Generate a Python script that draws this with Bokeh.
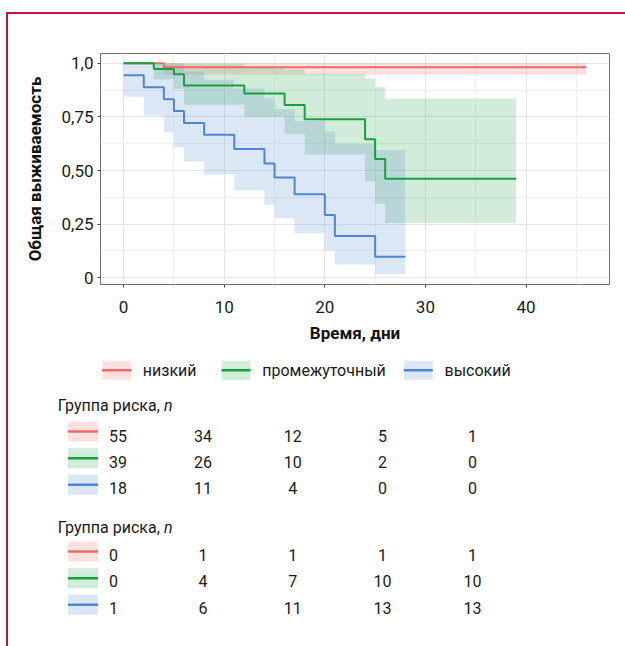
from bokeh.plotting import figure
from bokeh.models import Range1d, FixedTicker, CustomJSTickFormatter, Div
from bokeh.embed import file_html
from bokeh.resources import INLINE
from bokeh.core.properties import value

# ---------------- data ----------------
groups = ["низкий", "промежуточный", "высокий"]
colors = ["#EE6A66", "#17A03D", "#4F86D3"]

low_t = [0, 4, 46]
low_s = [1.0, 0.982, 0.982]
low_lo = [1.0, 0.947, 0.947]
low_hi = [1.0, 1.0, 1.0]

mid_t = [0, 3, 5, 6, 12, 16, 18, 24, 25, 26, 39]
mid_s = [1.0, 0.974, 0.949, 0.897, 0.859, 0.806, 0.739, 0.646, 0.554, 0.462, 0.462]
mid_lo = [1.0, 0.926, 0.882, 0.807, 0.751, 0.670, 0.575, 0.449, 0.345, 0.255, 0.255]
mid_hi = [1.0, 1.0, 1.0, 0.998, 0.984, 0.970, 0.950, 0.929, 0.889, 0.836, 0.836]

high_t = [0, 2, 4, 5, 6, 8, 11, 14, 15, 17, 20, 21, 25, 28]
high_s = [0.944, 0.889, 0.833, 0.778, 0.722, 0.667, 0.600, 0.533, 0.467, 0.389, 0.292, 0.194, 0.097, 0.097]
high_lo = [0.844, 0.755, 0.678, 0.608, 0.542, 0.481, 0.408, 0.340, 0.277, 0.207, 0.125, 0.061, 0.016, 0.016]
high_hi = [1.0, 1.0, 1.0, 0.996, 0.962, 0.924, 0.883, 0.837, 0.786, 0.731, 0.682, 0.625, 0.596, 0.596]

x_ticks = [0, 10, 20, 30, 40]
y_ticks = [0, 0.25, 0.5, 0.75, 1.0]

risk_times = [0, 10, 20, 30, 40]
at_risk_low = [55, 34, 12, 5, 1]
at_risk_mid = [39, 26, 10, 2, 0]
at_risk_high = [18, 11, 4, 0, 0]
events_low = [0, 1, 1, 1, 1]
events_mid = [0, 4, 7, 10, 10]
events_high = [1, 6, 11, 13, 13]

table_title = "Группа риска,"
table_title_n = "n"
x_title = "Время, дни"
y_title = "Общая выживаемость"

# ---------------- styles ----------------
FONT = "Roboto"
BORDER = "#C0134C"
TXT = "#1a1a1a"
W = 625
H1 = 345
BOTTOM = 630          # page px where the lower panel ends
H2 = BOTTOM - H1

series = [
    (low_t, low_s, low_lo, low_hi),
    (mid_t, mid_s, mid_lo, mid_hi),
    (high_t, high_s, high_lo, high_hi),
]

# ---------------- main KM plot ----------------
p = figure(width=W, height=H1, x_range=Range1d(-2.3, 48.3), y_range=Range1d(-0.032, 1.046),
           output_backend="svg", toolbar_location=None,
           min_border_left=100, min_border_right=16, min_border_top=53, min_border_bottom=60)
p.background_fill_color = "white"
p.border_fill_color = "white"
p.outline_line_color = "#707070"
p.outline_line_width = 1

p.xaxis.ticker = FixedTicker(ticks=x_ticks, minor_ticks=[5, 15, 25, 35, 45])
p.yaxis.ticker = FixedTicker(ticks=y_ticks, minor_ticks=[0.125, 0.375, 0.625, 0.875])
p.yaxis.formatter = CustomJSTickFormatter(code="""
    if (tick == 0) return '0';
    if (tick == 1) return '1,0';
    return tick.toFixed(2).replace('.', ',');
""")
p.xgrid.grid_line_color = "#e6e6e6"
p.ygrid.grid_line_color = "#e6e6e6"
p.xgrid.minor_grid_line_color = "#f0f0f0"
p.ygrid.minor_grid_line_color = "#f0f0f0"

for ax in (p.xaxis, p.yaxis):
    ax.axis_line_color = None
    ax.major_tick_line_color = "#444444"
    ax.major_tick_out = 3
    ax.major_tick_in = 0
    ax.minor_tick_line_color = None
    ax.major_label_text_font = FONT
    ax.major_label_text_font_size = "17px"
    ax.major_label_text_color = TXT
    ax.axis_label_text_font = FONT
    ax.axis_label_text_font_size = "17px"
    ax.axis_label_text_font_style = "bold"
    ax.axis_label_text_color = "#111111"

p.xaxis.axis_label = x_title
p.yaxis.axis_label = y_title
p.xaxis.major_label_standoff = 12
p.xaxis.axis_label_standoff = 7
p.yaxis.major_label_standoff = 3
p.yaxis.axis_label_standoff = 13

for (t, s, lo, hi), c in zip(series, colors):
    p.varea_step(x=t, y1=lo, y2=hi, step_mode="after", fill_color=c, fill_alpha=0.2)
for (t, s, lo, hi), c in zip(series, colors):
    p.step(x=t, y=s, mode="after", line_color=c, line_width=2)

# ---------------- legend + risk tables ----------------
X0 = 112.7   # page px of time 0 in the tables
SC = 8.98    # px per day in the tables


def tx(px):
    return (px - X0) / SC


q = figure(width=W, height=H2, x_range=Range1d(tx(0), tx(W)), y_range=Range1d(BOTTOM, H1),
           output_backend="svg", toolbar_location=None,
           min_border_left=0, min_border_right=0, min_border_top=0, min_border_bottom=0)
q.axis.visible = False
q.grid.visible = False
q.outline_line_color = None
q.background_fill_color = "white"
q.border_fill_color = "white"

# legend row
leg_sw_left = [101.7, 221.0, 403.3]
leg_txt_left = [142.3, 261.7, 444.0]
leg_y = 369.7
for g, c, sl, tl in zip(groups, colors, leg_sw_left, leg_txt_left):
    q.rect(x=[tx(sl + 14.5)], y=[leg_y], width=29 / SC, height=19,
           fill_color=c, fill_alpha=0.2, line_color=None)
    q.segment(x0=[tx(sl)], y0=[leg_y], x1=[tx(sl + 29)], y1=[leg_y], line_color=c, line_width=2.5)
    q.text(x=[tx(tl)], y=[leg_y], text=[g], text_baseline="middle", text_align="left",
           text_font=value(FONT), text_font_size="16px", text_color=TXT)


def table(title_y, sw_ys, txt_ys, rows):
    q.text(x=[tx(57.3)], y=[title_y], text=[table_title], text_baseline="middle", text_align="left",
           text_font=value(FONT), text_font_size="16px", text_color=TXT)
    q.text(x=[tx(163.5)], y=[title_y], text=[table_title_n], text_baseline="middle", text_align="left",
           text_font=value(FONT), text_font_size="16px", text_font_style="italic", text_color=TXT)
    for vals, c, sy, ty in zip(rows, colors, sw_ys, txt_ys):
        q.rect(x=[tx(82.5)], y=[sy], width=30 / SC, height=20,
               fill_color=c, fill_alpha=0.2, line_color=None)
        q.segment(x0=[tx(67.5)], y0=[sy], x1=[tx(97.5)], y1=[sy], line_color=c, line_width=2.5)
        q.text(x=risk_times[:1], y=[ty], text=[str(vals[0])], x_offset=-4.2,
               text_baseline="middle", text_align="left",
               text_font=value(FONT), text_font_size="16px", text_color=TXT)
        q.text(x=risk_times[1:], y=[ty] * 4, text=[str(v) for v in vals[1:]],
               text_baseline="middle", text_align="center",
               text_font=value(FONT), text_font_size="16px", text_color=TXT)


table(404.5, [431.0, 457.7, 484.2], [435.5, 461.0, 487.5], [at_risk_low, at_risk_mid, at_risk_high])
table(527.0, [551.0, 577.7, 604.3], [554.0, 580.7, 607.3], [events_low, events_mid, events_high])

# page frame (thin crimson rule at top and left of the page)
rule_css = "position:fixed;background:%s;pointer-events:none;" % BORDER
frame = Div(text=(
    '<div style="%sleft:6px;top:12px;width:619px;height:1.5px;"></div>'
    '<div style="%sleft:6px;top:12px;width:1.5px;height:634px;"></div>'
    % (rule_css, rule_css)), width=0, height=0,
    styles={"position": "absolute", "left": "0px", "top": "0px", "z-index": "10",
            "overflow": "visible"})

open("out.html", "w").write(file_html([p, q, frame], INLINE))
